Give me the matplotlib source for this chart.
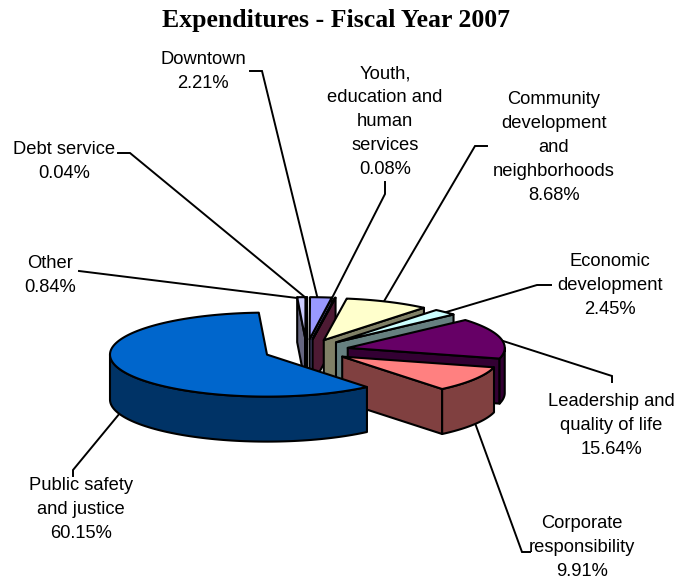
import numpy as np
import matplotlib
matplotlib.use("Agg")
import matplotlib.pyplot as plt
from matplotlib.colors import to_rgb

categories = ["Other", "Debt service", "Downtown", "Youth,\neducation and\nhuman\nservices",
              "Community\ndevelopment\nand\nneighborhoods", "Economic\ndevelopment",
              "Leadership and\nquality of life", "Corporate\nresponsibility",
              "Public safety\nand justice"]
shares = [0.84, 0.04, 2.21, 0.08, 8.68, 2.45, 15.64, 9.91, 60.15]
colors = ["#CCCCFF", "#000080", "#9999FF", "#993366", "#FFFFCC", "#CCFFFF",
          "#660066", "#FF8080", "#0066CC"]

# layout (pixel space)
label_x = [50, 64, 203, 385, 554, 610, 611, 582, 81]
label_top = [264, 150, 60, 74, 100, 262, 402, 524, 485]
leaders = [[(79, 271), (297, 298)],
           [(118, 153), (130, 153), (306, 298)],
           [(250, 71), (262, 71), (318, 300)],
           [(385, 182), (385, 194), (332, 298)],
           [(487, 146), (475, 146), (383, 303)],
           [(551, 285), (537, 285), (443, 313)],
           [(612, 382), (612, 376), (500, 340)],
           [(530, 552), (522, 552), (475, 423)],
           [(73, 476), (73, 470), (120, 413)]]
CX, CY, A, B, EXPLODE, DEPTH, START = 306.5, 350.5, 157, 42, 0.27, 45, 93
EDGE, LW = "black", 1.5
LINE_H = 24

fig = plt.figure(figsize=(6.75, 5.79), dpi=100)
ax = fig.add_axes([0, 0, 1, 1])
ax.set_xlim(0, 675)
ax.set_ylim(579, 0)
ax.axis("off")


def rim(apex, deg):
    t = np.radians(deg)
    return np.c_[apex[0] + A * np.cos(t), apex[1] - B * np.sin(t)]


def wall_colour(c):
    return tuple(v * 0.5 for v in to_rgb(c))


def poly(xy, fc, z):
    ax.fill(xy[:, 0], xy[:, 1], fc=fc, ec=EDGE, lw=LW, joinstyle="round", zorder=z)


down = np.array([0, DEPTH])
cum = START
for i, (s, c) in enumerate(zip(shares, colors)):
    th1 = cum
    th2 = cum - s * 3.6
    cum = th2
    mid = np.radians((th1 + th2) / 2)
    apex = np.array([CX + EXPLODE * A * np.cos(mid), CY - EXPLODE * B * np.sin(mid)])
    wc = wall_colour(c)
    z = 2 + i
    for th, visible in ((th1, np.cos(np.radians(th1)) < 0), (th2, np.cos(np.radians(th2)) > 0)):
        if visible:
            p = rim(apex, np.array([th]))[0]
            poly(np.array([apex, p, p + down, apex + down]), wc, z)
    for k in range(-1, 2):
        lo = max(th2, -180 + 360 * k)
        hi = min(th1, 0 + 360 * k)
        if hi > lo:
            arc = rim(apex, np.linspace(hi, lo, 80))
            poly(np.vstack([arc, (arc + down)[::-1]]), wc, z)
    arc = rim(apex, np.linspace(th1, th2, 160))
    poly(np.vstack([apex[None, :], arc]), c, z + 0.5)

ax.text(336.5, 21, "Expenditures - Fiscal Year 2007", family="Liberation Serif",
        weight="bold", fontsize=18.5, ha="center", va="center", color="black")

for name, s, x, y0, path in zip(categories, shares, label_x, label_top, leaders):
    for j, line in enumerate(name.split("\n") + [f"{s:.2f}%"]):
        ax.text(x, y0 + j * LINE_H, line, family="Liberation Sans", fontsize=13.2,
                ha="center", va="center", color="black", zorder=30)
    pts = np.array(path)
    ax.plot(pts[:, 0], pts[:, 1], color="black", lw=1.4, zorder=1,
            solid_joinstyle="miter")

fig.savefig("out.png", dpi=100)
